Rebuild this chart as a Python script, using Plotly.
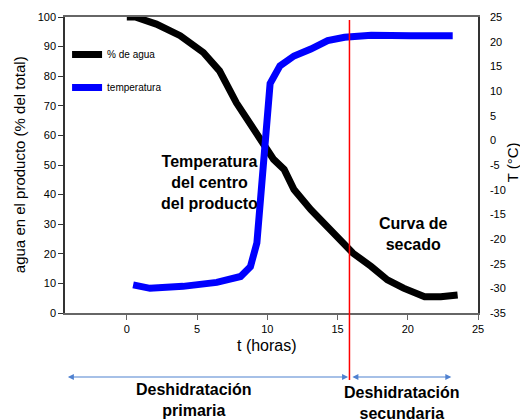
import plotly.graph_objects as go

# valores
t_agua = [0, 0.6, 2.1, 3.8, 5.45, 6.6, 7.8, 9.0, 9.5, 10.2, 10.45, 11.2, 11.9,
          13.1, 14.3, 15.45, 16.1, 17.4, 18.55, 19.7, 21.2, 22.35, 23.55]
agua = [100, 100, 97.6, 93.7, 88, 81.8, 71, 62.6, 58.6, 54, 51.9, 48.5, 41.7,
        34.9, 29.3, 23.6, 20.2, 15.7, 11.2, 8.4, 5.5, 5.5, 6.1]

t_temp = [0.45, 1.65, 4.0, 6.4, 8.1, 8.8, 9.26, 9.5, 9.74, 9.98, 10.2, 10.9,
          11.9, 13.1, 14.3, 15.5, 17.4, 20.2, 23.2]
temp = [-29.3, -30.0, -29.6, -28.8, -27.6, -25.6, -20.8, -13, -2, 6.3, 11.5,
        15.1, 17.1, 18.5, 20.2, 20.9, 21.3, 21.2, 21.2]

temp_ticks = [-35, -30, -25, -20, -15, -10, -5, 0, 5, 10, 15, 20, 25]

t_limite = 15.85          # fin de la deshidratación primaria
fases = [(-4.3, 15.75), (15.95, 23.1)]

FONT = "Liberation Sans, Arial, sans-serif"
ARROW = "#4f81d0"
PLOT_H = 296  # alto del área de trazado en px


def py(px):
    """px desde arriba de la ventana -> coordenada paper"""
    return (313 - px) / PLOT_H


fig = go.Figure()
fig.add_trace(go.Scatter(
    x=t_agua, y=agua, name="% de agua", mode="lines",
    line=dict(color="black", width=7), legendgroup="a",
))
fig.add_trace(go.Scatter(
    x=t_temp, y=temp, name="temperatura", mode="lines", yaxis="y2",
    line=dict(color="#0000ff", width=7), legendgroup="b",
))

# línea roja que separa las dos fases
fig.add_shape(type="line", xref="x", yref="paper",
              x0=t_limite, x1=t_limite, y0=py(380), y1=py(20),
              line=dict(color="#ff0000", width=1.5))

for x0, x1 in fases:
    fig.add_annotation(
        x=x1, y=py(377), ax=x0, ay=0, xref="x", yref="paper",
        axref="x", ayref="pixel", text="", showarrow=True,
        arrowhead=2, arrowside="end+start", arrowsize=1, arrowwidth=1.2,
        arrowcolor=ARROW,
    )
fig.add_annotation(x=4.8, y=py(400), xref="x", yref="paper",
                   text="<b>Deshidratación<br>primaria</b>", showarrow=False,
                   font=dict(size=16), yanchor="middle")
fig.add_annotation(x=19.6, y=py(403), xref="x", yref="paper",
                   text="<b>Deshidratación<br>secundaria</b>", showarrow=False,
                   font=dict(size=16), yanchor="middle")

fig.add_annotation(x=5.9, y=py(183), xref="x", yref="paper",
                   text="<b>Temperatura<br>del centro<br>del producto</b>",
                   showarrow=False, font=dict(size=16))
fig.add_annotation(x=20.4, y=py(255), xref="x", yref="paper",
                   text="<b>Curva de<br>secado</b>",
                   showarrow=False, font=dict(size=16))
fig.add_annotation(x=10.0, y=py(356), xref="x", yref="paper", text="t (horas)",
                   showarrow=False, font=dict(size=16))
fig.add_annotation(x=-0.111, y=0.5, xref="paper", yref="paper",
                   xanchor="center", yanchor="middle",
                   text="agua en el producto (% del total)", textangle=-90,
                   showarrow=False, font=dict(size=15))
fig.add_annotation(x=1.083, y=py(162), xref="paper", yref="paper",
                   xanchor="center", yanchor="middle",
                   text="T (°C)", textangle=-90,
                   showarrow=False, font=dict(size=15))

# la página añade 8 px de margen al body: la figura empieza en (8, 8)
fig.update_layout(
    width=520, height=411,
    margin=dict(l=57, r=50, t=9, b=106, autoexpand=False),
    paper_bgcolor="white", plot_bgcolor="white",
    font=dict(family=FONT, color="black"),
    showlegend=True,
    legend=dict(x=0.005, y=py(40), xanchor="left", yanchor="top",
                bgcolor="rgba(0,0,0,0)", font=dict(size=10),
                tracegroupgap=14, itemwidth=30),
    xaxis=dict(range=[-4.4, 25], tick0=0, dtick=5, showgrid=False,
               zeroline=False, showline=True, linecolor="#666", linewidth=1.5,
               mirror=True, ticks="outside", ticklen=5, tickcolor="#666",
               tickfont=dict(size=11), automargin=False),
    yaxis=dict(range=[0, 100], dtick=10, showgrid=False, zeroline=False,
               showline=True, linecolor="#333", linewidth=1.5, ticks="outside",
               ticklen=5, tickcolor="#333", tickfont=dict(size=11),
               automargin=False),
    yaxis2=dict(range=[-35, 25], overlaying="y", side="right",
                tickvals=temp_ticks, ticktext=[str(v) for v in temp_ticks],
                showgrid=False, zeroline=False, showline=True, linecolor="#333",
                linewidth=1.5, ticks="", ticklabelstandoff=8,
                tickfont=dict(size=11), automargin=False),
)

fig.write_html("out.html")
